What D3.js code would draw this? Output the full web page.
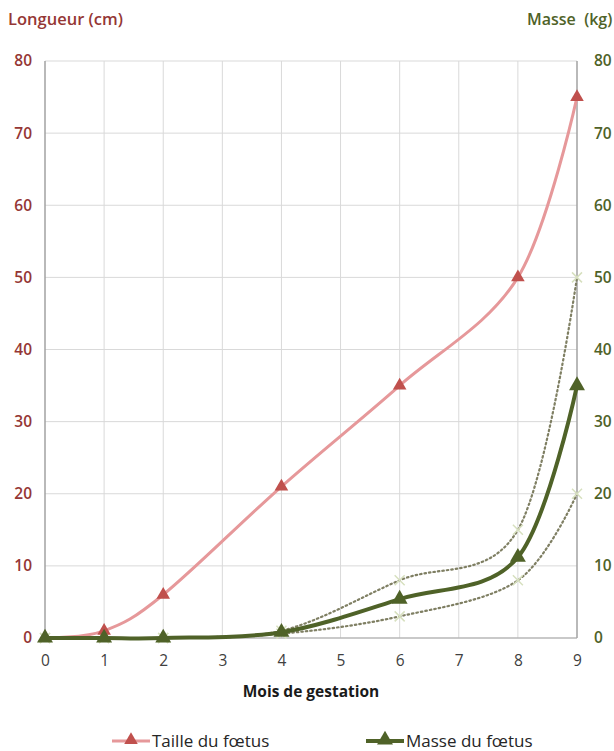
<!DOCTYPE html>
<html><head><meta charset="utf-8">
<script src="https://cdn.jsdelivr.net/npm/d3@7"></script>
<style>body{margin:0;background:#fff}svg{display:block}</style>
</head><body>
<script>
const months = [0,1,2,4,6,8,9];
const taille = [0,1,6,21,35,50,75];
const masse = [0,0,0,0.8,5.4,11.2,35];
const masseHaut = [0,0,0,1,8,15,50];
const masseBas = [0,0,0,0.6,3,8,20];
const xTicks = [0,1,2,3,4,5,6,7,8,9];
const yTicks = [0,10,20,30,40,50,60,70,80];

const W=614,H=751;
const FONT="'Open Sans', sans-serif";
const svg=d3.select("body").append("svg").attr("width",W).attr("height",H)
  .style("font-family",FONT);
const L=45,R=577,T=61,B=638;
const x=d3.scaleLinear().domain([0,9]).range([L,R]);
const yl=d3.scaleLinear().domain([0,80]).range([B,T]);
const yr=d3.scaleLinear().domain([0,80]).range([B,T]);

// grid
svg.append("g").selectAll("line").data(xTicks).join("line")
  .attr("x1",d=>x(d)).attr("x2",d=>x(d)).attr("y1",T).attr("y2",B)
  .attr("stroke","#d9d9d9").attr("stroke-width",1);
svg.append("g").selectAll("line").data(yTicks).join("line")
  .attr("x1",L).attr("x2",R).attr("y1",d=>yl(d)).attr("y2",d=>yl(d))
  .attr("stroke","#d9d9d9").attr("stroke-width",1);
svg.append("line").attr("x1",L).attr("x2",L).attr("y1",T).attr("y2",B).attr("stroke","#868686");
svg.append("line").attr("x1",R).attr("x2",R).attr("y1",T).attr("y2",B).attr("stroke","#868686");
svg.append("line").attr("x1",L).attr("x2",R).attr("y1",B).attr("y2",B).attr("stroke","#a6a6a6");

// axes
const la=svg.append("g").attr("transform",`translate(${L},0)`)
  .call(d3.axisLeft(yl).tickValues(yTicks).tickSize(0).tickPadding(13));
la.select(".domain").remove();
la.selectAll("text").attr("fill","#953735").style("font-size","15.5px").style("font-weight","600")
  .style("font-family",FONT);
const ra=svg.append("g").attr("transform",`translate(${R},0)`)
  .call(d3.axisRight(yr).tickValues(yTicks).tickSize(0).tickPadding(17));
ra.select(".domain").remove();
ra.selectAll("text").attr("fill","#4f6228").style("font-size","15.5px").style("font-weight","600")
  .style("font-family",FONT);
const xa=svg.append("g").attr("transform",`translate(0,${B})`)
  .call(d3.axisBottom(x).tickValues(xTicks).tickFormat(d3.format("d")).tickSize(0).tickPadding(17));
xa.select(".domain").remove();
xa.selectAll("text").attr("fill","#404040").style("font-size","15.5px")
  .style("font-family",FONT);

// titles
svg.append("text").attr("x",8).attr("y",25).text("Longueur (cm)")
  .attr("fill","#953735").style("font-size","16.5px").style("font-weight","600");
svg.append("text").attr("x",527).attr("y",25).text("Masse\u00a0 (kg)")
  .attr("fill","#4f6228").style("font-size","16px").style("font-weight","600");
svg.append("text").attr("x",(L+R)/2).attr("y",697).attr("text-anchor","middle").text("Mois de gestation")
  .attr("fill","#1a1a1a").style("font-size","15.5px").style("font-weight","bold");

const curve=d3.curveCardinal.tension(0);
function pts(vals,sc){return months.map((m,i)=>[x(m),sc(vals[i])]);}
const line=d3.line().curve(curve);

// dotted
[masseHaut,masseBas].forEach(v=>{
  svg.append("path").attr("d",line(pts(v,yr))).attr("fill","none")
    .attr("stroke","#7f7f63").attr("stroke-width",2.2).attr("stroke-dasharray","1.5 3").attr("stroke-linecap","round");
  svg.append("g").selectAll("path").data(pts(v,yr)).join("path")
    .attr("d",d=>`M${d[0]-5},${d[1]-5}L${d[0]+5},${d[1]+5}M${d[0]-5},${d[1]+5}L${d[0]+5},${d[1]-5}`)
    .attr("stroke","#d7e0bf").attr("stroke-width",1.5);
});

// taille
svg.append("path").attr("d",line(pts(taille,yl))).attr("fill","none")
  .attr("stroke","#e6989a").attr("stroke-width",3);
const tri=d3.symbol().type(d3.symbolTriangle).size(80);
svg.append("g").selectAll("path").data(pts(taille,yl)).join("path")
  .attr("transform",d=>`translate(${d[0]},${d[1]})`).attr("d",tri).attr("fill","#c0504d");

// masse
svg.append("path").attr("d",line(pts(masse,yr))).attr("fill","none")
  .attr("stroke","#4f6228").attr("stroke-width",4);
const tri2=d3.symbol().type(d3.symbolTriangle).size(110);
svg.append("g").selectAll("path").data(pts(masse,yr)).join("path")
  .attr("transform",d=>`translate(${d[0]},${d[1]})`).attr("d",tri2).attr("fill","#4f6228");

// legend
const lg=svg.append("g");
lg.append("line").attr("x1",112).attr("x2",150).attr("y1",741).attr("y2",741).attr("stroke","#e6989a").attr("stroke-width",3);
lg.append("path").attr("transform","translate(131,740)").attr("d",tri).attr("fill","#c0504d");
lg.append("text").attr("x",152).attr("y",747).text("Taille du fœtus").attr("fill","#262626").style("font-size","17px");
lg.append("line").attr("x1",366).attr("x2",404).attr("y1",741).attr("y2",741).attr("stroke","#4f6228").attr("stroke-width",4);
lg.append("path").attr("transform","translate(385,740)").attr("d",tri2).attr("fill","#4f6228");
lg.append("text").attr("x",406).attr("y",747).text("Masse du fœtus").attr("fill","#262626").style("font-size","17px");
</script>
</body></html>
